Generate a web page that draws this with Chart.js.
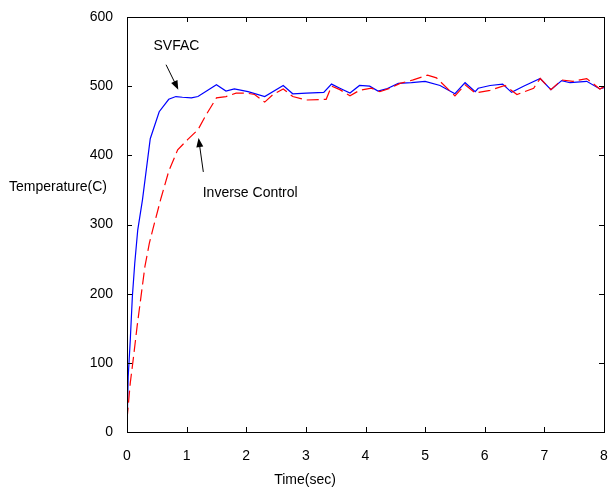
<!DOCTYPE html>
<html>
<head>
<meta charset="utf-8">
<style>
  html, body { margin: 0; padding: 0; background: #fff; }
  canvas { display: block; }
</style>
<script src="https://cdn.jsdelivr.net/npm/chart.js@4"></script>
</head>
<body>
<canvas id="tempChart" width="608" height="490"></canvas>
<script>
// SVFAC response (blue solid)
const svfacTime = [0, 0.02, 0.055, 0.09, 0.13, 0.18, 0.26, 0.39, 0.54, 0.70, 0.82, 0.93, 1.08, 1.19, 1.50, 1.66, 1.80, 2.03, 2.31, 2.62, 2.78, 3.01, 3.30, 3.43, 3.57, 3.74, 3.90, 4.07, 4.21, 4.35, 4.55, 4.77, 5.00, 5.25, 5.50, 5.67, 5.84, 5.89, 6.09, 6.30, 6.45, 6.65, 6.93, 7.11, 7.29, 7.43, 7.71, 7.93, 8.0];
const svfacTemp = [3, 80, 133, 196, 244, 292, 336, 424, 463, 481, 485, 484, 483, 485, 502, 493, 496, 492, 485, 501, 489, 490, 491, 503, 497, 490, 501, 500, 493, 496, 504, 505, 507, 501, 489, 505, 492, 497, 501, 503, 491, 500, 511, 495, 508, 505, 507, 496, 498];

// Inverse control response (red dashed)
const invTime = [0, 0.055, 0.11, 0.17, 0.235, 0.30, 0.375, 0.43, 0.57, 0.70, 0.85, 1.02, 1.19, 1.33, 1.50, 1.66, 1.83, 2.00, 2.14, 2.31, 2.45, 2.62, 2.78, 3.01, 3.34, 3.43, 3.57, 3.74, 3.90, 4.10, 4.24, 4.41, 4.58, 4.80, 5.04, 5.19, 5.50, 5.67, 5.84, 6.09, 6.34, 6.54, 6.82, 6.93, 7.11, 7.29, 7.48, 7.71, 7.93, 8.0];
const invTemp = [18, 71, 109, 153, 196, 239, 273, 292, 338, 377, 408, 423, 437, 459, 483, 485, 490, 490, 488, 477, 488, 496, 485, 480, 481, 500, 495, 486, 494, 497, 492, 497, 504, 509, 516, 512, 486, 502, 490, 494, 501, 488, 497, 511, 495, 509, 507, 511, 496, 499];

const xTicks = [0, 1, 2, 3, 4, 5, 6, 7, 8];
const yTicks = [0, 100, 200, 300, 400, 500, 600];

const FONT = 'Liberation Sans, Arial, sans-serif';

function toPoints(xs, ys) {
  return xs.map((x, i) => ({ x: x, y: ys[i] }));
}

function arrow(ctx, x1, y1, x2, y2) {
  const ang = Math.atan2(y2 - y1, x2 - x1);
  const len = 9, half = 3.5;
  ctx.beginPath();
  ctx.moveTo(x1, y1);
  ctx.lineTo(x2 - Math.cos(ang) * len * 0.8, y2 - Math.sin(ang) * len * 0.8);
  ctx.stroke();
  ctx.beginPath();
  ctx.moveTo(x2, y2);
  ctx.lineTo(x2 - Math.cos(ang) * len - Math.sin(ang) * half, y2 - Math.sin(ang) * len + Math.cos(ang) * half);
  ctx.lineTo(x2 - Math.cos(ang) * len + Math.sin(ang) * half, y2 - Math.sin(ang) * len - Math.cos(ang) * half);
  ctx.closePath();
  ctx.fill();
}

// frame, inward ticks, labels and annotations
const decorations = {
  id: 'decorations',
  afterDraw(chart) {
    const ctx = chart.ctx;
    const a = chart.chartArea;
    const xs = chart.scales.x, ys = chart.scales.y;
    ctx.save();
    ctx.strokeStyle = '#000';
    ctx.fillStyle = '#000';
    ctx.lineWidth = 1;
    ctx.strokeRect(Math.round(a.left) + 0.5, Math.round(a.top) + 0.5,
      Math.round(a.right - a.left), Math.round(a.bottom - a.top));
    ctx.beginPath();
    xTicks.forEach(v => {
      const px = Math.round(xs.getPixelForValue(v)) + 0.5;
      ctx.moveTo(px, a.bottom); ctx.lineTo(px, a.bottom - 5);
      ctx.moveTo(px, a.top); ctx.lineTo(px, a.top + 5);
    });
    yTicks.forEach(v => {
      const py = Math.round(ys.getPixelForValue(v)) + 0.5;
      ctx.moveTo(a.left, py); ctx.lineTo(a.left + 5, py);
      ctx.moveTo(a.right, py); ctx.lineTo(a.right - 5, py);
    });
    ctx.stroke();

    ctx.font = '14px ' + FONT;
    ctx.textBaseline = 'middle';
    ctx.textAlign = 'left';
    ctx.fillText('Temperature(C)', 9, 187);
    ctx.textAlign = 'center';
    ctx.fillText('Time(sec)', 305, 480);

    // annotations
    ctx.fillText('SVFAC', xs.getPixelForValue(0.83), ys.getPixelForValue(558));
    ctx.textAlign = 'left';
    ctx.fillText('Inverse Control', xs.getPixelForValue(1.27), ys.getPixelForValue(346));
    arrow(ctx, xs.getPixelForValue(0.655), ys.getPixelForValue(531),
      xs.getPixelForValue(0.86), ys.getPixelForValue(495));
    arrow(ctx, xs.getPixelForValue(1.28), ys.getPixelForValue(376),
      xs.getPixelForValue(1.20), ys.getPixelForValue(425));
    ctx.restore();
  }
};

new Chart(document.getElementById('tempChart'), {
  type: 'scatter',
  data: {
    datasets: [{
      label: 'Inverse Control',
      data: toPoints(invTime, invTemp),
      showLine: true,
      borderColor: '#ff0000',
      borderWidth: 1.2,
      borderDash: [12, 5],
      pointRadius: 0,
      tension: 0
    }, {
      label: 'SVFAC',
      data: toPoints(svfacTime, svfacTemp),
      showLine: true,
      borderColor: '#0000ff',
      borderWidth: 1.2,
      pointRadius: 0,
      tension: 0
    }]
  },
  options: {
    responsive: false,
    animation: false,
    devicePixelRatio: 1,
    layout: { padding: { top: 17, right: 4, left: 0, bottom: 0 } },
    plugins: {
      legend: { display: false },
      tooltip: { enabled: false }
    },
    scales: {
      x: {
        type: 'linear',
        min: 0,
        max: 8,
        afterFit: s => { s.height = 58; s.paddingRight = 0; s.paddingLeft = 0; },
        afterBuildTicks: s => { s.ticks = xTicks.map(v => ({ value: v })); },
        ticks: { color: '#000', font: { family: FONT, size: 14 }, padding: 8, maxRotation: 0 },
        grid: { display: false },
        border: { display: false }
      },
      y: {
        min: 0,
        max: 600,
        afterFit: s => { s.width = 127; s.paddingTop = 0; s.paddingBottom = 0; },
        afterBuildTicks: s => { s.ticks = yTicks.map(v => ({ value: v })); },
        ticks: { color: '#000', font: { family: FONT, size: 14 }, padding: 6 },
        grid: { display: false },
        border: { display: false }
      }
    }
  },
  plugins: [decorations]
});
</script>
</body>
</html>
